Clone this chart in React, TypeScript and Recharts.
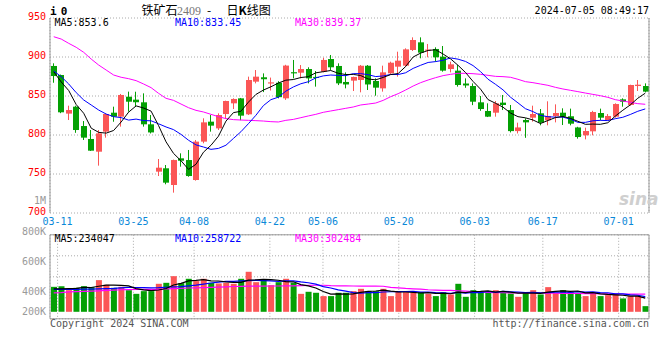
import React from 'react';
import {
  Bar,
  CartesianGrid,
  Cell,
  ComposedChart,
  Line,
  ReferenceLine,
  XAxis,
  YAxis,
} from 'recharts';

// trading days shown (03-08 .. 07-05)
const DATES = [
  '03-08', '03-11', '03-12', '03-13', '03-14', '03-15', '03-18', '03-19', '03-20', '03-21', '03-22',
  '03-25', '03-26', '03-27', '03-28', '03-29', '04-01', '04-02', '04-03',
  '04-08', '04-09', '04-10', '04-11', '04-12', '04-15', '04-16', '04-17', '04-18', '04-19',
  '04-22', '04-23', '04-24', '04-25', '04-26', '04-29', '04-30',
  '05-06', '05-07', '05-08', '05-09', '05-10', '05-13', '05-14', '05-15', '05-16', '05-17',
  '05-20', '05-21', '05-22', '05-23', '05-24', '05-27', '05-28', '05-29', '05-30', '05-31',
  '06-03', '06-04', '06-05', '06-06', '06-07', '06-11', '06-12', '06-13', '06-14',
  '06-17', '06-18', '06-19', '06-20', '06-21', '06-24', '06-25', '06-26', '06-27', '06-28',
  '07-01', '07-02', '07-03', '07-04', '07-05',
];

// index of the dates that get a label + grid line
const TICK_IDX = [1, 11, 19, 29, 36, 46, 56, 65, 75];

const OPEN = [
  888.5, 876.9, 827.4, 836.3, 811.5, 794.9, 778.6, 804.3, 828.6, 823.5,
  849.1, 845.3, 841.9, 813.7, 753.0, 757.3, 735.9, 770.1, 767.9, 742.3,
  791.5, 817.1, 808.5, 826.9, 840.6, 847.0, 826.5, 868.4, 874.0, 866.0,
  867.0, 847.0, 880.5, 879.9, 884.6, 874.5, 881.2, 897.4, 888.5, 868.0,
  869.7, 870.5, 888.8, 869.2, 859.8, 879.1, 887.6, 888.9, 909.0, 918.8,
  908.5, 910.3, 900.4, 884.6, 882.5, 866.0, 862.8, 841.9, 830.8, 828.6,
  841.5, 832.0, 805.0, 819.2, 822.2, 827.8, 818.8, 824.4, 828.6, 824.0,
  809.7, 799.6, 804.7, 828.2, 819.2, 823.5, 845.7, 838.5, 862.8, 862.8,
];
const HIGH = [
  891.9, 877.5, 837.6, 837.5, 817.9, 806.4, 806.4, 827.5, 836.3, 852.6,
  855.6, 855.5, 853.4, 825.6, 769.2, 761.5, 768.5, 776.5, 780.8, 793.6,
  821.4, 825.6, 827.8, 844.0, 847.0, 847.5, 874.8, 883.3, 879.0, 873.6,
  869.0, 890.0, 896.2, 889.7, 886.8, 882.0, 899.1, 902.6, 891.9, 880.3,
  874.8, 889.7, 889.7, 872.6, 888.9, 894.0, 906.8, 911.1, 925.2, 925.2,
  916.7, 912.4, 914.1, 894.0, 889.7, 872.6, 866.2, 850.0, 840.6, 843.6,
  851.3, 838.5, 815.8, 821.4, 837.6, 833.3, 843.2, 839.3, 834.2, 833.8,
  810.5, 809.4, 831.0, 833.8, 826.9, 840.6, 847.0, 864.5, 870.5, 866.2,
];
const LOW = [
  867.0, 828.0, 819.2, 802.8, 793.6, 779.5, 760.7, 796.6, 817.0, 810.7,
  829.9, 836.3, 810.7, 802.0, 747.4, 736.8, 726.1, 759.4, 746.5, 741.5,
  789.4, 804.3, 806.4, 821.4, 833.3, 819.0, 825.6, 866.2, 855.0, 857.0,
  847.0, 845.0, 872.6, 872.6, 866.2, 862.0, 880.3, 883.3, 864.0, 859.8,
  856.4, 854.7, 857.7, 850.4, 855.6, 877.8, 874.8, 887.6, 907.7, 898.3,
  899.6, 894.0, 881.2, 880.3, 862.0, 860.5, 838.3, 831.0, 823.0, 823.5,
  832.0, 803.3, 802.0, 796.4, 817.1, 812.4, 812.4, 816.2, 812.8, 812.4,
  795.3, 794.4, 799.6, 818.8, 818.8, 822.2, 836.3, 837.6, 856.4, 854.7,
];
const CLOSE = [
  875.6, 829.1, 832.0, 806.4, 796.6, 779.9, 802.1, 826.9, 823.5, 851.3,
  842.7, 842.0, 813.7, 803.3, 758.1, 738.9, 767.9, 767.0, 747.4, 791.5,
  816.2, 812.0, 825.6, 843.6, 846.2, 824.8, 870.5, 874.8, 871.5, 867.5,
  848.5, 889.0, 879.0, 884.6, 872.6, 873.5, 896.2, 886.8, 866.2, 864.8,
  874.4, 888.8, 864.8, 860.7, 880.3, 892.7, 895.3, 909.8, 921.8, 905.6,
  909.5, 899.6, 882.5, 890.6, 864.1, 863.5, 842.7, 833.3, 823.5, 840.6,
  838.5, 805.0, 809.7, 816.2, 826.9, 815.8, 824.4, 828.2, 823.5, 814.5,
  797.4, 805.1, 829.5, 822.2, 824.4, 839.7, 842.7, 864.1, 864.5, 855.6,
];

const MA5 = [
  881.0, 868.0, 857.0, 839.0, 827.9, 808.8, 803.4, 802.4, 805.8, 816.7,
  829.3, 837.3, 834.6, 830.6, 812.0, 791.2, 776.4, 767.0, 755.9, 762.5,
  778.0, 786.8, 798.5, 817.8, 828.7, 830.4, 842.1, 852.0, 857.6, 861.8,
  866.6, 870.3, 871.1, 873.7, 874.7, 879.7, 881.2, 882.7, 879.1, 877.5,
  877.7, 876.2, 871.8, 870.7, 873.8, 877.5, 878.8, 887.8, 900.0, 905.0,
  908.4, 909.3, 903.8, 897.6, 889.3, 880.1, 868.7, 858.8, 845.4, 840.7,
  835.7, 828.2, 823.5, 822.0, 819.3, 814.7, 818.6, 822.3, 823.8, 821.3,
  817.6, 813.7, 814.0, 813.7, 815.7, 824.2, 831.7, 838.6, 847.1, 853.6,
];
const MA10 = [
  882.0, 874.8, 865.4, 854.3, 844.9, 838.5, 832.0, 826.9, 823.5, 822.3,
  819.1, 820.4, 818.5, 818.2, 814.4, 810.3, 806.9, 800.8, 793.3, 787.3,
  784.6, 781.6, 782.8, 786.9, 795.6, 804.2, 814.5, 825.3, 837.7, 845.3,
  848.5, 856.2, 861.6, 865.7, 868.3, 873.2, 875.8, 876.9, 876.4, 876.1,
  878.7, 878.7, 877.3, 874.9, 875.7, 877.6, 877.5, 879.8, 885.4, 889.4,
  893.0, 894.1, 895.8, 898.8, 897.2, 894.3, 889.0, 881.3, 871.5, 865.0,
  857.9, 848.5, 841.2, 833.7, 830.0, 825.2, 823.4, 822.9, 822.9, 820.3,
  816.2, 816.2, 818.2, 818.8, 818.5, 820.9, 822.7, 826.3, 830.4, 833.45,
];
const MA30 = [
  926.0, 923.0, 917.5, 912.4, 906.0, 897.4, 889.7, 883.3, 876.9, 874.0,
  872.2, 869.7, 865.4, 860.7, 853.4, 847.0, 844.4, 839.7, 835.0, 831.6,
  829.5, 826.5, 823.5, 821.0, 819.7, 819.2, 818.8, 818.4, 817.9, 817.1,
  816.7, 818.8, 820.0, 822.2, 824.4, 826.5, 829.1, 830.8, 832.5, 834.2,
  835.9, 838.5, 839.7, 841.0, 844.4, 849.1, 853.0, 857.7, 862.8, 867.1,
  870.5, 873.5, 876.1, 877.8, 879.1, 879.1, 878.6, 877.8, 876.5, 875.2,
  874.8, 874.0, 871.4, 868.4, 867.1, 865.4, 863.7, 861.1, 859.0, 857.3,
  855.6, 853.8, 852.1, 850.4, 848.3, 845.3, 843.6, 841.9, 840.2, 839.37,
];

// volume, thousands of lots
const VOLUME = [
  428, 440, 371, 411, 440, 423, 543, 463, 411, 428,
  371, 308, 354, 354, 480, 497, 611, 491, 566, 526,
  566, 497, 486, 497, 480, 566, 686, 508, 543, 457,
  508, 566, 497, 308, 343, 326, 269, 269, 326, 326,
  354, 394, 354, 354, 394, 269, 343, 337, 326, 337,
  308, 269, 337, 297, 480, 257, 371, 343, 337, 371,
  326, 314, 257, 337, 371, 297, 423, 326, 371, 337,
  326, 269, 337, 269, 286, 297, 229, 269, 269, 97,
];
const VOL_MA5 = [
  394, 394, 396, 400, 418, 417, 437.6, 456, 456, 453.6,
  443.2, 396.2, 374.4, 363, 373.4, 398.6, 459.2, 486.6, 529, 538.2,
  552, 529.2, 528.2, 514.4, 505.2, 505.2, 543, 547.4, 556.6, 552,
  540.4, 516.4, 514.2, 467.2, 444.4, 408, 348.6, 303, 306.6, 303.2,
  308.8, 333.8, 350.8, 356.4, 370, 353, 342.8, 339.4, 333.8, 322.4,
  330.2, 315.4, 315.4, 309.6, 338.2, 328, 348.4, 349.6, 357.6, 335.8,
  349.6, 338.2, 321, 321, 321, 315.2, 337, 350.8, 357.6, 350.8,
  356.6, 325.8, 328, 307.6, 297.4, 291.6, 283.6, 270, 270, 234.0,
];
const VOL_MA10 = [
  384, 385, 386, 386, 388, 390, 393, 397, 402, 410,
  418, 416.9, 415.2, 409.5, 413.5, 420.9, 427.7, 430.5, 446, 455.8,
  475.3, 494.2, 507.4, 521.7, 521.7, 528.6, 536.1, 537.8, 535.5, 528.6,
  522.8, 529.7, 530.8, 511.9, 498.2, 474.2, 432.5, 408.6, 375.5, 355.6,
  328.7, 318.4, 328.7, 329.8, 339.4, 343.4, 346.8, 347.9, 351.9, 337.7,
  336.5, 327.4, 324.6, 316, 334.2, 321.7, 331.9, 329.6, 347.9, 331.9,
  349, 343.9, 339.3, 328.4, 335.3, 326.7, 329, 335.9, 339.3, 333,
  346.8, 338.3, 342.8, 329.2, 327, 308.7, 305.8, 288.8, 283.7, 258.7,
];
const VOL_MA30 = [
  326, 330, 340, 345, 350, 354, 360, 366, 372, 378,
  380, 383, 383, 383, 386, 392, 396, 402, 408, 411,
  414, 418, 424, 428, 434, 437, 440, 440, 441, 442,
  442, 444, 446, 449, 452, 455, 455, 448, 445, 443,
  442, 441, 440, 440, 438, 420, 410, 400, 394, 390,
  378, 372, 368, 366, 360, 354, 348, 340, 334, 330,
  327, 326, 326, 325, 322, 320, 319, 318, 316, 315,
  314, 313, 311, 309, 308, 307, 305, 304, 303, 302.5,
];

const PRICE_TICKS = [700, 750, 800, 850, 900, 950];
const VOL_TICKS = [-120, 240, 600, 960, 1320];
const VOL_TICK_TEXT = ['', '200K', '400K', '600K', '800K'];

const RED = '#fb5656';
const GREEN = '#04a004';
const AXIS = '#999';
const GRID = '#aaa';
const MONO = '"DejaVu Sans Mono", monospace';

const rows = DATES.map((date, i) => ({
  date,
  idx: i,
  open: OPEN[i],
  high: HIGH[i],
  low: LOW[i],
  close: CLOSE[i],
  ma5: MA5[i],
  ma10: MA10[i],
  ma30: MA30[i],
  vol: VOLUME[i],
  vma5: VOL_MA5[i],
  vma10: VOL_MA10[i],
  vma30: VOL_MA30[i],
}));

function Candle(props: any) {
  const { x, y, width, height, payload } = props;
  if (!payload) return null;
  const { open, close, high, low } = payload;
  const color = close >= open ? RED : GREEN;
  const top = Math.min(y, y + height);
  const span = Math.abs(height);
  const k = high > low ? span / (high - low) : 0;
  const py = (v: number) => top + (high - v) * k;
  const bodyTop = py(Math.max(open, close));
  const bodyH = Math.max(1, py(Math.min(open, close)) - bodyTop);
  const left = Math.round(x);
  const w = Math.round(width);
  const cx = left + Math.floor(w / 2) - 0.5;
  return (
    <g>
      <line x1={cx} x2={cx} y1={top} y2={top + span} stroke={color} strokeWidth={1} />
      <rect x={left} y={bodyTop} width={w} height={bodyH} fill={color} />
    </g>
  );
}

// date labels live on top of the volume panel (they sit between both panels)
function DateTick({ x, y, payload }: any) {
  return (
    <text x={x} y={y - 9.8} textAnchor="middle" fill="#0a88d8" fontSize={10} fontFamily={MONO}>
      {DATES[payload.value]}
    </text>
  );
}

function PriceTick({ x, y, payload }: any) {
  return (
    <g>
      <text x={x} y={y + 2} textAnchor="end" fill="#f00" fontSize={10} fontFamily={MONO}>
        {payload.value}
      </text>
      {payload.value === 700 && (
        <text x={x} y={y - 9.5} textAnchor="end" fill={AXIS} fontSize={10} fontFamily={MONO}>
          1M
        </text>
      )}
    </g>
  );
}

// sina puts its volume labels a little off the grid lines
const VOL_LABEL_SHIFT = [0, 13.4, 14.4, 5.4, -3.6];

function VolTick({ x, y, payload }: any) {
  const i = VOL_TICKS.indexOf(payload.value);
  const text = VOL_TICK_TEXT[i];
  if (!text) return <g />;
  return (
    <text x={x} y={y + VOL_LABEL_SHIFT[i] + 3.3} textAnchor="end" fill="#9a9a9a" fontSize={10} fontFamily={MONO}>
      {text}
    </text>
  );
}

const txt = (extra: React.CSSProperties): React.CSSProperties => ({
  position: 'absolute',
  whiteSpace: 'pre',
  lineHeight: 1,
  fontFamily: MONO,
  fontSize: 10,
  ...extra,
});

const PRICE_H = 219;
const PRICE_PLOT_BOTTOM = 213;
const VOL_TOP = 213.5;
const VOL_PLOT_TOP = 234.3;

export default function App() {
  return (
    <div style={{ position: 'absolute', left: 0, top: 0, width: 660, height: 360, background: '#fff', overflow: 'hidden' }}>
      <div style={{ position: 'absolute', left: 0, top: 0 }}>
        <ComposedChart width={660} height={PRICE_H} data={rows} margin={{ top: 18, right: 11, bottom: 0, left: 0 }}>
          <CartesianGrid xAxisId="grid" stroke={GRID} strokeDasharray="1 2" />
          <XAxis xAxisId="cat" dataKey="date" hide />
          <XAxis
            xAxisId="grid"
            dataKey="idx"
            type="number"
            domain={[0, 79]}
            ticks={TICK_IDX}
            height={PRICE_H - PRICE_PLOT_BOTTOM}
            tick={false}
            tickLine={false}
            axisLine={{ stroke: AXIS }}
          />
          <YAxis
            domain={[700, 950]}
            ticks={PRICE_TICKS}
            interval={0}
            width={50}
            tickLine={false}
            tickSize={3}
            tickMargin={1}
            axisLine={{ stroke: AXIS }}
            tick={<PriceTick />}
          />
          <ReferenceLine xAxisId="grid" x={79} stroke={AXIS} />
          <Bar
            xAxisId="cat"
            dataKey={(d: any) => [d.low, d.high]}
            shape={Candle}
            barSize={6}
            isAnimationActive={false}
          />
          <Line xAxisId="cat" type="linear" dataKey="ma30" stroke="#ff00ff" strokeWidth={1} dot={false} activeDot={false} isAnimationActive={false} />
          <Line xAxisId="cat" type="linear" dataKey="ma10" stroke="#0000ff" strokeWidth={1} dot={false} activeDot={false} isAnimationActive={false} />
          <Line xAxisId="cat" type="linear" dataKey="ma5" stroke="#000" strokeWidth={1} dot={false} activeDot={false} isAnimationActive={false} />
        </ComposedChart>
      </div>

      <div style={{ position: 'absolute', left: 0, top: VOL_TOP }}>
        <ComposedChart
          width={660}
          height={320 - VOL_TOP}
          data={rows}
          margin={{ top: 0, right: 11, bottom: 1.7, left: 0 }}
        >
          <CartesianGrid xAxisId="grid" stroke={GRID} strokeDasharray="1 2" />
          <XAxis xAxisId="cat" dataKey="date" hide />
          <XAxis
            xAxisId="grid"
            orientation="top"
            dataKey="idx"
            type="number"
            domain={[0, 79]}
            ticks={TICK_IDX}
            interval={0}
            height={VOL_PLOT_TOP - VOL_TOP}
            tickLine={false}
            tickSize={0}
            tickMargin={0}
            axisLine={{ stroke: AXIS }}
            tick={<DateTick />}
          />
          <YAxis
            domain={[-120, 1320]}
            ticks={VOL_TICKS}
            interval={0}
            width={50}
            tickLine={false}
            tickSize={3}
            tickMargin={1}
            axisLine={{ stroke: AXIS }}
            tick={<VolTick />}
          />
          <ReferenceLine xAxisId="grid" y={-120} stroke={AXIS} />
          <ReferenceLine xAxisId="grid" x={79} stroke={AXIS} />
          <Bar xAxisId="cat" dataKey="vol" barSize={6} isAnimationActive={false}>
            {rows.map((r) => (
              <Cell key={r.date} fill={r.close >= r.open ? RED : GREEN} />
            ))}
          </Bar>
          <Line xAxisId="cat" type="linear" dataKey="vma30" stroke="#ff00ff" strokeWidth={1.2} dot={false} activeDot={false} isAnimationActive={false} />
          <Line xAxisId="cat" type="linear" dataKey="vma10" stroke="#0000ff" strokeWidth={1.2} dot={false} activeDot={false} isAnimationActive={false} />
          <Line xAxisId="cat" type="linear" dataKey="vma5" stroke="#000" strokeWidth={1.2} dot={false} activeDot={false} isAnimationActive={false} />
        </ComposedChart>
      </div>

      {/* header */}
      <div style={txt({ left: 50, top: 6, fontSize: 11, fontWeight: 'bold', color: '#000' })}>
        <span>i</span>
        <span style={{ marginLeft: 4 }}>0</span>
      </div>
      <div style={txt({ left: 141.5, top: 3.5, fontSize: 12, fontFamily: '"Noto Sans CJK SC", sans-serif', color: '#000' })}>铁矿石</div>
      <div style={txt({ left: 177, top: 4.5, fontSize: 12, fontFamily: '"Liberation Serif", serif', color: '#777' })}>2409</div>
      <div style={txt({ left: 207, top: 4, fontSize: 12, fontFamily: '"Noto Sans CJK SC", sans-serif', color: '#000' })}>-</div>
      <div style={txt({ left: 226.5, top: 3.5, fontSize: 12, fontFamily: '"Noto Sans CJK SC", sans-serif', color: '#000' })}>
        日<b>K</b>线图
      </div>
      <div style={txt({ right: 11, top: 6.4, color: '#000' })}>2024-07-05 08:49:17</div>

      {/* price legend */}
      <div style={txt({ left: 54.5, top: 18, color: '#000' })}>MA5:853.6</div>
      <div style={txt({ left: 175, top: 18, color: '#0000ff' })}>MA10:833.45</div>
      <div style={txt({ left: 295, top: 18, color: '#ff00ff' })}>MA30:839.37</div>

      {/* volume legend */}
      <div style={txt({ left: 54.5, top: 233.5, color: '#000' })}>MA5:234047</div>
      <div style={txt({ left: 175, top: 233.5, color: '#0000ff' })}>MA10:258722</div>
      <div style={txt({ left: 295, top: 233.5, color: '#ff00ff' })}>MA30:302484</div>

      {/* watermark */}
      <div
        style={txt({
          left: 619,
          top: 191,
          fontSize: 17,
          fontStyle: 'italic',
          fontWeight: 'bold',
          fontFamily: '"DejaVu Sans", sans-serif',
          color: '#cfcfcf',
        })}
      >
        sina
      </div>

      {/* footer */}
      <div style={txt({ left: 50, top: 318.5, color: '#555' })}>Copyright 2024 SINA.COM</div>
      <div style={txt({ right: 11, top: 318.5, color: '#555' })}>http://finance.sina.com.cn</div>
    </div>
  );
}
